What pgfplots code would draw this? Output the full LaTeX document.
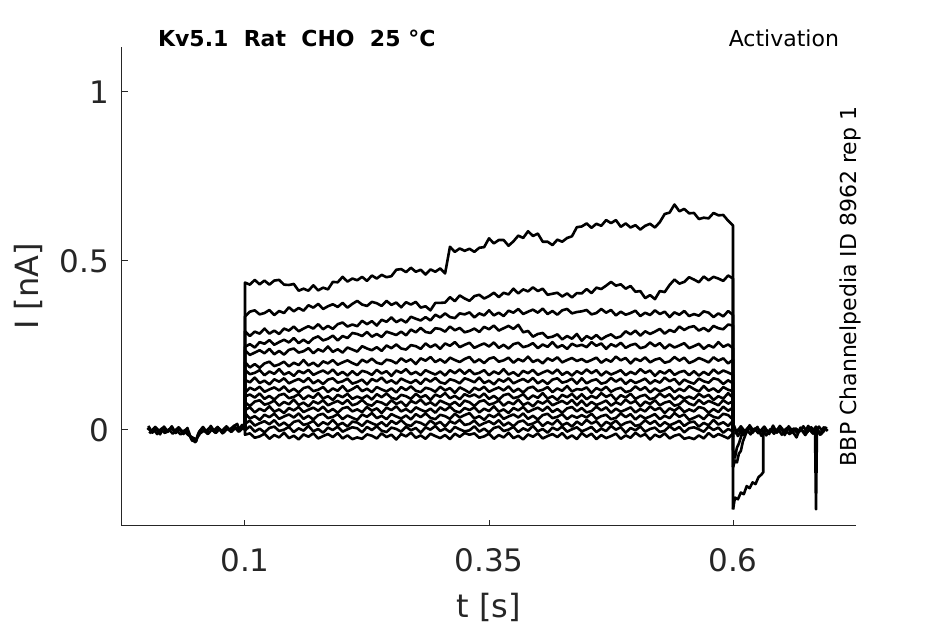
\documentclass[border=0pt]{standalone}
\usepackage{pgfplots}
\pgfplotsset{compat=1.18}
\usepackage{pgfplotstable}
\usepackage{fontspec}
\setmainfont{DejaVu Sans}
\definecolor{axgray}{HTML}{262626}

\pgfplotstableread{
t a b c d e f g h i j k l m n o p
0.100 0 0 0 0 0 0 0 0 0 0 0 0 0 0 0 0
0.100 0.436 0.336 0.292 0.246 0.236 0.201 0.178 0.148 0.110 0.099 0.082 0.059 0.050 0.018 -0.001 -0.014
0.105 0.430 0.350 0.278 0.254 0.222 0.185 0.165 0.141 0.125 0.105 0.071 0.067 0.034 0.028 0.011 -0.010
0.110 0.444 0.354 0.291 0.244 0.229 0.195 0.169 0.155 0.118 0.096 0.084 0.052 0.041 0.013 -0.005 -0.023
0.115 0.431 0.342 0.285 0.260 0.236 0.184 0.177 0.139 0.128 0.108 0.088 0.063 0.030 0.020 0.004 -0.019
0.120 0.442 0.346 0.300 0.255 0.227 0.197 0.162 0.146 0.113 0.092 0.075 0.056 0.045 0.026 -0.007 -0.011
0.125 0.430 0.355 0.285 0.266 0.240 0.202 0.173 0.135 0.120 0.101 0.079 0.070 0.038 0.017 0.006 -0.026
0.130 0.442 0.340 0.294 0.252 0.224 0.189 0.166 0.150 0.126 0.090 0.087 0.054 0.048 0.029 0.010 -0.015
0.135 0.444 0.352 0.284 0.260 0.234 0.194 0.180 0.143 0.117 0.103 0.072 0.061 0.033 0.013 -0.003 -0.022
0.140 0.430 0.346 0.300 0.267 0.223 0.202 0.164 0.153 0.129 0.107 0.083 0.050 0.040 0.022 0.001 -0.008
0.145 0.429 0.363 0.294 0.259 0.237 0.188 0.171 0.138 0.113 0.094 0.076 0.065 0.046 0.011 0.009 -0.024
0.150 0.432 0.351 0.306 0.272 0.241 0.199 0.160 0.145 0.122 0.098 0.090 0.058 0.037 0.024 -0.006 -0.017
0.155 0.412 0.361 0.292 0.257 0.229 0.192 0.175 0.151 0.111 0.106 0.074 0.068 0.049 0.028 0.005 -0.028
0.160 0.418 0.353 0.300 0.267 0.233 0.207 0.168 0.142 0.124 0.091 0.081 0.053 0.033 0.015 -0.002 -0.013
0.165 0.412 0.369 0.307 0.257 0.242 0.191 0.178 0.154 0.128 0.102 0.070 0.060 0.042 0.019 0.012 -0.020
0.170 0.428 0.362 0.300 0.271 0.227 0.199 0.163 0.138 0.115 0.095 0.085 0.066 0.031 0.027 -0.004 -0.010
0.175 0.413 0.373 0.313 0.277 0.239 0.188 0.170 0.147 0.119 0.109 0.078 0.057 0.044 0.012 0.003 -0.025
0.180 0.421 0.358 0.298 0.265 0.232 0.203 0.176 0.136 0.127 0.093 0.088 0.069 0.048 0.023 -0.008 -0.018
0.185 0.416 0.366 0.308 0.270 0.247 0.197 0.167 0.149 0.112 0.100 0.073 0.053 0.035 0.016 0.007 -0.012
0.190 0.438 0.372 0.299 0.279 0.231 0.207 0.179 0.153 0.123 0.089 0.080 0.062 0.039 0.030 0.000 -0.021
0.195 0.437 0.364 0.313 0.265 0.239 0.193 0.163 0.140 0.116 0.104 0.086 0.051 0.047 0.014 0.010 -0.009
0.200 0.453 0.376 0.318 0.278 0.229 0.200 0.172 0.144 0.130 0.097 0.077 0.064 0.032 0.021 -0.005 -0.025
0.205 0.439 0.362 0.306 0.272 0.244 0.206 0.161 0.152 0.114 0.107 0.089 0.068 0.043 0.010 0.002 -0.016
0.210 0.448 0.373 0.312 0.287 0.238 0.198 0.174 0.137 0.121 0.092 0.073 0.055 0.036 0.025 0.008 -0.027
0.215 0.443 0.382 0.307 0.284 0.232 0.192 0.162 0.142 0.130 0.099 0.078 0.061 0.030 0.022 0.005 -0.022
0.220 0.453 0.371 0.323 0.278 0.248 0.208 0.175 0.149 0.115 0.093 0.089 0.053 0.046 0.012 -0.007 -0.026
0.225 0.441 0.367 0.313 0.290 0.241 0.200 0.171 0.135 0.122 0.102 0.076 0.068 0.039 0.027 0.009 -0.013
0.230 0.457 0.379 0.322 0.276 0.236 0.211 0.163 0.151 0.112 0.090 0.072 0.057 0.050 0.020 0.000 -0.017
0.235 0.448 0.375 0.309 0.284 0.245 0.199 0.178 0.144 0.127 0.106 0.085 0.064 0.035 0.014 0.011 -0.025
0.240 0.459 0.367 0.326 0.275 0.234 0.195 0.167 0.155 0.120 0.097 0.081 0.050 0.042 0.023 -0.002 -0.010
0.245 0.452 0.382 0.320 0.291 0.250 0.208 0.174 0.140 0.114 0.108 0.073 0.066 0.032 0.011 -0.006 -0.021
0.250 0.455 0.370 0.333 0.286 0.242 0.205 0.160 0.147 0.123 0.095 0.088 0.059 0.047 0.027 0.007 -0.014
0.255 0.474 0.377 0.319 0.281 0.253 0.197 0.176 0.137 0.111 0.091 0.077 0.070 0.040 0.018 0.003 -0.028
0.260 0.476 0.363 0.327 0.291 0.241 0.212 0.169 0.152 0.127 0.104 0.084 0.055 0.034 0.029 -0.005 -0.012
0.265 0.467 0.378 0.318 0.280 0.238 0.202 0.180 0.145 0.118 0.100 0.070 0.062 0.043 0.016 0.010 -0.019
0.270 0.480 0.371 0.335 0.297 0.251 0.209 0.165 0.139 0.129 0.092 0.086 0.052 0.031 0.012 -0.001 -0.008
0.275 0.468 0.379 0.329 0.289 0.248 0.195 0.172 0.148 0.116 0.107 0.079 0.067 0.047 0.025 0.006 -0.023
0.280 0.474 0.362 0.324 0.302 0.240 0.212 0.162 0.136 0.112 0.096 0.090 0.060 0.038 0.021 -0.008 -0.016
0.285 0.460 0.366 0.334 0.290 0.256 0.205 0.177 0.152 0.125 0.103 0.075 0.054 0.049 0.013 0.008 -0.026
0.290 0.475 0.354 0.324 0.287 0.245 0.216 0.170 0.143 0.121 0.089 0.082 0.063 0.036 0.028 0.001 -0.011
0.295 0.468 0.376 0.341 0.301 0.253 0.201 0.164 0.154 0.113 0.105 0.072 0.051 0.032 0.017 0.012 -0.018
0.300 0.478 0.376 0.333 0.299 0.240 0.209 0.173 0.141 0.128 0.098 0.087 0.067 0.045 0.024 -0.003 -0.024
0.305 0.463 0.377 0.345 0.291 0.256 0.199 0.161 0.137 0.117 0.109 0.080 0.058 0.041 0.010 0.004 -0.015
0.310 0.542 0.393 0.334 0.306 0.249 0.214 0.177 0.150 0.124 0.094 0.074 0.069 0.033 0.026 -0.006 -0.027
0.315 0.527 0.381 0.331 0.295 0.260 0.207 0.168 0.146 0.110 0.101 0.083 0.056 0.048 0.019 0.009 -0.011
0.320 0.537 0.398 0.345 0.302 0.245 0.201 0.179 0.138 0.126 0.091 0.071 0.052 0.037 0.030 0.002 -0.020
0.325 0.530 0.389 0.342 0.289 0.252 0.210 0.166 0.153 0.119 0.106 0.087 0.065 0.044 0.015 -0.004 -0.009
0.330 0.536 0.382 0.348 0.293 0.258 0.216 0.178 0.148 0.110 0.099 0.082 0.059 0.050 0.018 -0.001 -0.014
0.335 0.527 0.396 0.333 0.300 0.243 0.200 0.165 0.141 0.125 0.105 0.071 0.067 0.034 0.028 0.011 -0.010
0.340 0.539 0.400 0.345 0.290 0.250 0.209 0.169 0.155 0.118 0.096 0.084 0.052 0.041 0.013 -0.005 -0.023
0.345 0.541 0.389 0.339 0.305 0.256 0.198 0.177 0.139 0.128 0.108 0.088 0.063 0.030 0.020 0.004 -0.019
0.350 0.567 0.396 0.354 0.298 0.247 0.211 0.162 0.146 0.113 0.092 0.075 0.056 0.045 0.026 -0.007 -0.011
0.355 0.552 0.406 0.339 0.309 0.259 0.215 0.173 0.135 0.120 0.101 0.079 0.070 0.038 0.017 0.006 -0.026
0.360 0.562 0.393 0.347 0.294 0.243 0.202 0.166 0.150 0.126 0.090 0.087 0.054 0.048 0.029 0.010 -0.015
0.365 0.562 0.406 0.337 0.301 0.252 0.206 0.180 0.143 0.117 0.103 0.072 0.061 0.033 0.013 -0.003 -0.022
0.370 0.545 0.401 0.353 0.308 0.241 0.214 0.164 0.153 0.129 0.107 0.083 0.050 0.040 0.022 0.001 -0.008
0.375 0.558 0.418 0.347 0.299 0.254 0.199 0.171 0.138 0.113 0.094 0.076 0.065 0.046 0.011 0.009 -0.024
0.380 0.575 0.404 0.358 0.311 0.258 0.210 0.160 0.145 0.122 0.098 0.090 0.058 0.037 0.024 -0.006 -0.017
0.385 0.568 0.416 0.343 0.289 0.245 0.203 0.175 0.151 0.111 0.106 0.074 0.068 0.049 0.028 0.005 -0.028
0.390 0.588 0.410 0.350 0.293 0.249 0.217 0.168 0.142 0.124 0.091 0.081 0.053 0.033 0.015 -0.002 -0.013
0.395 0.574 0.422 0.356 0.276 0.257 0.201 0.178 0.154 0.128 0.102 0.070 0.060 0.042 0.019 0.012 -0.020
0.400 0.581 0.411 0.347 0.284 0.242 0.208 0.163 0.138 0.115 0.095 0.085 0.066 0.031 0.027 -0.004 -0.010
0.405 0.557 0.418 0.359 0.287 0.253 0.197 0.170 0.147 0.119 0.109 0.078 0.057 0.044 0.012 0.003 -0.025
0.410 0.557 0.400 0.343 0.273 0.246 0.212 0.176 0.136 0.127 0.093 0.088 0.069 0.048 0.023 -0.008 -0.018
0.415 0.547 0.403 0.352 0.276 0.260 0.205 0.167 0.149 0.112 0.100 0.073 0.053 0.035 0.016 0.007 -0.012
0.420 0.563 0.406 0.341 0.283 0.244 0.215 0.179 0.153 0.123 0.089 0.080 0.062 0.039 0.030 0.000 -0.021
0.425 0.557 0.395 0.354 0.268 0.251 0.200 0.163 0.140 0.116 0.104 0.086 0.051 0.047 0.014 0.010 -0.009
0.430 0.568 0.404 0.358 0.278 0.240 0.207 0.172 0.144 0.130 0.097 0.077 0.064 0.032 0.021 -0.005 -0.025
0.435 0.573 0.392 0.345 0.270 0.255 0.213 0.161 0.152 0.114 0.107 0.089 0.068 0.043 0.010 0.002 -0.016
0.440 0.600 0.405 0.349 0.284 0.248 0.204 0.174 0.137 0.121 0.092 0.073 0.055 0.036 0.025 0.008 -0.027
0.445 0.602 0.404 0.351 0.264 0.252 0.210 0.166 0.153 0.119 0.106 0.087 0.065 0.044 0.015 -0.004 -0.009
0.450 0.611 0.417 0.355 0.278 0.245 0.201 0.179 0.138 0.126 0.091 0.071 0.052 0.037 0.030 0.002 -0.020
0.455 0.598 0.405 0.342 0.270 0.260 0.207 0.168 0.146 0.110 0.101 0.083 0.056 0.048 0.019 0.009 -0.011
0.460 0.610 0.421 0.346 0.281 0.249 0.214 0.177 0.150 0.124 0.094 0.074 0.069 0.033 0.026 -0.006 -0.027
0.465 0.604 0.417 0.358 0.268 0.256 0.199 0.161 0.137 0.117 0.109 0.080 0.058 0.041 0.010 0.004 -0.015
0.470 0.621 0.427 0.347 0.277 0.240 0.209 0.173 0.141 0.128 0.098 0.087 0.067 0.045 0.024 -0.003 -0.024
0.475 0.612 0.438 0.355 0.283 0.254 0.202 0.164 0.154 0.113 0.105 0.072 0.051 0.032 0.017 0.012 -0.018
0.480 0.621 0.427 0.339 0.272 0.247 0.217 0.170 0.143 0.121 0.089 0.082 0.063 0.036 0.028 0.001 -0.011
0.485 0.601 0.431 0.350 0.277 0.258 0.206 0.177 0.152 0.125 0.103 0.075 0.054 0.049 0.013 0.008 -0.026
0.490 0.611 0.418 0.341 0.292 0.243 0.213 0.162 0.136 0.112 0.096 0.090 0.060 0.038 0.021 -0.008 -0.016
0.495 0.599 0.426 0.346 0.283 0.251 0.197 0.172 0.148 0.116 0.107 0.079 0.067 0.047 0.025 0.006 -0.023
0.500 0.606 0.409 0.353 0.294 0.255 0.211 0.165 0.139 0.129 0.092 0.086 0.052 0.031 0.012 -0.001 -0.008
0.505 0.593 0.411 0.337 0.279 0.242 0.204 0.180 0.145 0.118 0.100 0.070 0.062 0.043 0.016 0.010 -0.019
0.510 0.604 0.390 0.347 0.292 0.246 0.215 0.169 0.152 0.127 0.104 0.084 0.055 0.034 0.029 -0.005 -0.012
0.515 0.610 0.399 0.340 0.284 0.259 0.200 0.176 0.137 0.111 0.091 0.077 0.070 0.040 0.018 0.003 -0.028
0.520 0.599 0.387 0.354 0.291 0.248 0.208 0.160 0.147 0.123 0.095 0.088 0.059 0.047 0.027 0.007 -0.014
0.525 0.615 0.411 0.343 0.299 0.257 0.212 0.174 0.140 0.114 0.108 0.073 0.066 0.032 0.011 -0.006 -0.021
0.530 0.639 0.408 0.350 0.285 0.241 0.199 0.167 0.155 0.120 0.097 0.081 0.050 0.042 0.023 -0.002 -0.010
0.535 0.643 0.429 0.334 0.296 0.253 0.203 0.178 0.144 0.127 0.106 0.085 0.064 0.035 0.014 0.011 -0.025
0.540 0.667 0.445 0.348 0.290 0.244 0.216 0.163 0.151 0.112 0.090 0.072 0.057 0.050 0.020 0.000 -0.017
0.545 0.647 0.433 0.341 0.306 0.250 0.205 0.171 0.135 0.122 0.102 0.076 0.068 0.039 0.027 0.009 -0.013
0.550 0.654 0.438 0.352 0.296 0.257 0.214 0.175 0.149 0.115 0.093 0.089 0.053 0.046 0.012 -0.007 -0.026
0.555 0.641 0.452 0.337 0.304 0.242 0.198 0.162 0.142 0.130 0.099 0.078 0.061 0.030 0.022 0.005 -0.022
0.560 0.642 0.445 0.343 0.307 0.248 0.204 0.174 0.137 0.121 0.092 0.073 0.055 0.036 0.025 0.008 -0.027
0.565 0.624 0.437 0.338 0.294 0.255 0.213 0.161 0.152 0.114 0.107 0.089 0.068 0.043 0.010 0.002 -0.016
0.570 0.628 0.454 0.351 0.302 0.240 0.207 0.172 0.144 0.130 0.097 0.077 0.064 0.032 0.021 -0.005 -0.025
0.575 0.626 0.443 0.347 0.292 0.251 0.200 0.163 0.140 0.116 0.104 0.086 0.051 0.047 0.014 0.010 -0.009
0.580 0.642 0.453 0.334 0.308 0.244 0.215 0.179 0.153 0.123 0.089 0.080 0.062 0.039 0.030 0.000 -0.021
0.585 0.635 0.448 0.345 0.301 0.260 0.205 0.167 0.149 0.112 0.100 0.073 0.053 0.035 0.016 0.007 -0.012
0.590 0.636 0.441 0.336 0.298 0.246 0.212 0.176 0.136 0.127 0.093 0.088 0.069 0.048 0.023 -0.008 -0.018
0.595 0.619 0.457 0.352 0.312 0.253 0.197 0.170 0.147 0.119 0.109 0.078 0.057 0.044 0.012 0.003 -0.025
0.600 0.605 0.448 0.340 0.309 0.242 0.208 0.163 0.138 0.115 0.095 0.085 0.066 0.031 0.027 -0.004 -0.010
0.600 -0.235 -0.110 -0.060 -0.020 0 0 0 0 0 0 0 0 0 0 0 0
}\pulse

\pgfplotstableread{
t y
0.000 0.006
0.004 -0.004
0.008 0.009
0.012 -0.002
0.016 0.007
0.020 -0.006
0.024 0.005
0.028 -0.003
0.032 0.008
0.036 -0.005
0.040 0.002
0.044 -0.020
0.046 -0.032
0.048 -0.026
0.050 -0.034
0.052 -0.012
0.056 0.004
0.060 -0.003
0.064 0.007
0.068 -0.002
0.072 0.009
0.076 -0.004
0.080 0.008
0.084 0.001
0.088 0.010
0.092 0.018
0.094 0.002
0.096 0.009
0.100 0.004
}\preA

\pgfplotstableread{
t y
0.002 -0.010
0.006 0.003
0.010 -0.012
0.014 0.001
0.018 -0.009
0.022 0.002
0.026 -0.011
0.030 -0.001
0.034 -0.013
0.038 -0.004
0.042 -0.015
0.046 -0.022
0.050 -0.028
0.054 -0.010
0.058 -0.002
0.062 -0.012
0.066 0.001
0.070 -0.009
0.074 0.003
0.078 -0.008
0.082 0.004
0.086 -0.006
0.090 0.006
0.094 -0.005
0.098 0.007
0.100 0.000
}\preB

\pgfplotstableread{
t y
0.001 0.012
0.005 -0.008
0.009 0.004
0.013 -0.013
0.017 0.010
0.021 -0.005
0.025 0.011
0.029 -0.009
0.033 0.003
0.037 -0.012
0.041 0.006
0.045 -0.027
0.049 -0.036
0.053 -0.005
0.057 0.009
0.061 -0.007
0.065 0.012
0.069 -0.006
0.073 0.005
0.077 -0.010
0.081 0.011
0.085 -0.002
0.089 0.013
0.093 -0.004
0.097 0.015
0.100 0.003
}\preC

\pgfplotstableread{
t y
0.600 0.008
0.604 -0.006
0.608 0.011
0.612 -0.004
0.616 0.009
0.620 -0.008
0.624 0.006
0.628 -0.003
0.632 0.010
0.636 -0.007
0.640 0.004
0.644 -0.005
0.648 0.012
0.652 -0.002
0.656 0.007
0.660 -0.009
0.664 0.005
0.668 -0.004
0.672 0.011
0.676 -0.006
0.680 0.008
0.684 -0.003
0.685 -0.235
0.686 0.002
0.688 0.010
0.692 -0.005
0.696 0.009
}\postA

\pgfplotstableread{
t y
0.602 -0.012
0.606 0.003
0.610 -0.015
0.614 0.001
0.618 -0.013
0.622 0.004
0.626 -0.010
0.630 -0.001
0.634 -0.016
0.638 0.002
0.642 -0.011
0.646 0.003
0.650 -0.014
0.654 -0.002
0.658 -0.012
0.662 0.004
0.666 -0.009
0.670 0.001
0.674 -0.015
0.678 0.002
0.682 -0.011
0.686 0.003
0.690 -0.013
0.694 0.000
}\postB

\pgfplotstableread{
t y
0.601 0.013
0.605 -0.018
0.609 0.005
0.613 -0.010
0.617 0.014
0.621 -0.003
0.625 0.009
0.629 -0.017
0.633 0.004
0.637 -0.012
0.641 0.013
0.645 -0.008
0.649 0.006
0.653 -0.015
0.657 0.011
0.661 -0.004
0.665 -0.022
0.669 0.007
0.673 -0.009
0.677 0.012
0.681 -0.006
0.685 0.010
0.689 -0.014
0.693 0.008
0.697 -0.003
}\postC

\begin{document}
\begin{tikzpicture}
\useasboundingbox (-61pt,-49pt) rectangle (411.5pt,263pt);
\begin{axis}[
  scale only axis, width=367pt, height=239.5pt,
  xmin=-0.026, xmax=0.726, ymin=-0.284, ymax=1.133,
  axis x line*=bottom, axis y line*=left,
  axis line style={axgray, line width=0.5pt},
  xtick={0.1,0.35,0.6}, xticklabels={0.1,0.35,0.6},
  ytick={0,0.5,1}, yticklabels={0,0.5,1},
  tick align=inside, major tick length=3pt,
  tick style={axgray, line width=0.5pt},
  ticklabel style={font=\fontsize{15.5}{18}\selectfont, text=axgray},
  xticklabel style={anchor=base, yshift=-23pt},
  yticklabel style={anchor=east, xshift=-3pt},
  xlabel={t [s]}, ylabel={I [nA]},
  label style={font=\fontsize{16}{19}\selectfont, text=axgray},
  xlabel style={at={(axis description cs:0.5,0)}, anchor=base, yshift=-45.5pt},
  ylabel style={at={(axis description cs:-0.128,0.5)}, anchor=center},
  trace/.style={black, line width=1.3pt, line join=round},
  clip=false,
]
\addplot[trace] table[x=t,y=y]{\preA};
\addplot[trace] table[x=t,y=y]{\preB};
\addplot[trace] table[x=t,y=y]{\preC};
\addplot[trace] table[x=t,y=y]{\postA};
\addplot[trace] table[x=t,y=y]{\postB};
\addplot[trace] table[x=t,y=y]{\postC};
\foreach \c in {a,b,c,d,e,f,g,h,i,j,k,l,m,n,o,p}{
  \addplot[trace] table[x=t,y=\c]{\pulse};
}
\addplot[trace] coordinates {(0.600,-0.235) (0.602,-0.200) (0.605,-0.205) (0.608,-0.185) (0.611,-0.190) (0.614,-0.166) (0.617,-0.172) (0.620,-0.155) (0.623,-0.160) (0.626,-0.140) (0.629,-0.132) (0.631,-0.125) (0.631,-0.010) (0.634,0.000)};
\addplot[trace] coordinates {(0.600,-0.110) (0.602,-0.090) (0.604,-0.096) (0.606,-0.070) (0.608,-0.062) (0.610,-0.035) (0.613,-0.012) (0.615,0.000)};
\addplot[trace] coordinates {(0.600,-0.060) (0.602,-0.082) (0.604,-0.052) (0.606,-0.040) (0.608,-0.022) (0.610,0.000)};
\node[anchor=base west, font=\fontsize{11}{13}\selectfont\bfseries, text=black] at (rel axis cs:0,1) [xshift=14.5pt, yshift=0.3pt] {Kv5.1\ \ Rat\ \ CHO\ \ 25 °C};
\node[anchor=base east, font=\fontsize{11}{13}\selectfont, text=black] at (rel axis cs:1,1) [xshift=-5pt, yshift=0.3pt] {Activation};
\node[anchor=base, rotate=90, font=\fontsize{11}{13}\selectfont, text=black] at (rel axis cs:1,0.5) {BBP Channelpedia ID 8962 rep 1};
\end{axis}
\end{tikzpicture}
\end{document}
